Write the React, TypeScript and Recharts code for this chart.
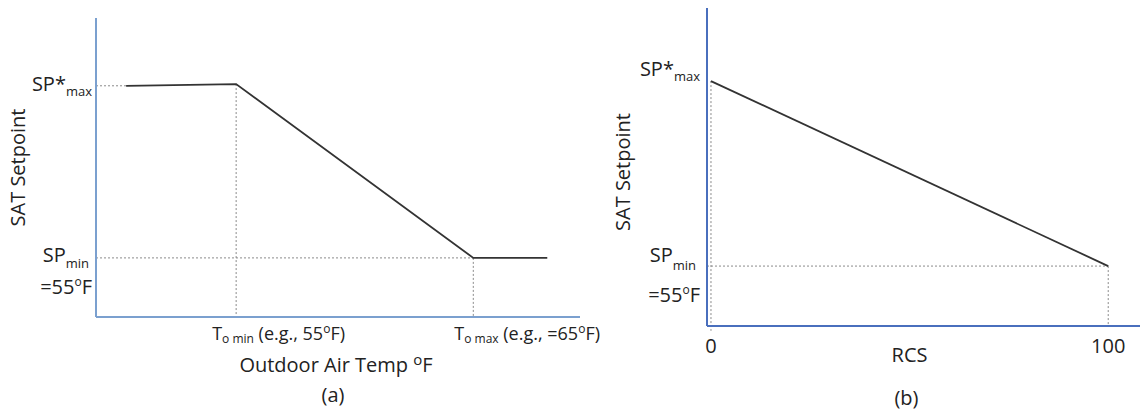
import React from 'react';
import { LineChart, Line, XAxis, YAxis, ReferenceLine, Label } from 'recharts';

// (a) SAT setpoint vs outdoor air temperature (°F)
const oatTemps = [50.36, 55, 65, 68.12];
const oatSetpoints = [64.9, 65, 55, 55];
const oatTicks = [55, 65];
const oatTickLabels = [
  { sub: 'o min', text: ' (e.g., 55', pad: 24 },
  { sub: 'o max', text: ' (e.g., =65', pad: 19 },
];

// (b) SAT setpoint vs RCS (0-100)
const rcsValues = [0, 100];
const rcsSetpoints = [65, 55];
const rcsTicks = [0, 100];
const rcsTickLabels = ['0', '100'];

const spTicks = [55, 65];
const spMaxLabel = { main: 'SP*', sub: 'max' };
const spMinLabel = { main: 'SP', sub: 'min', second: '=55' };

const FONT = '"Open Sans", "Noto Sans", sans-serif';
const INK = '#222';
const GUIDE = '#8a8a8a';

const dataA = oatTemps.map((x, i) => ({ x, y: oatSetpoints[i] }));
const dataB = rcsValues.map((x, i) => ({ x, y: rcsSetpoints[i] }));

const Degree = ({ size = 12, rise = 8 }: { size?: number; rise?: number }) => (
  <>
    <tspan fontSize={size} dy={-rise}>o</tspan>
    <tspan dy={rise}>F</tspan>
  </>
);

const makeYTick = (maxDy: number, minDy: number, subDy: number, secondDy: number, minShift: number) => (props: any) => {
  const { x, y, payload } = props;
  const isMax = payload.value === spTicks[1];
  if (isMax) {
    return (
      <text x={x} y={y + maxDy} textAnchor="end" fontFamily={FONT} fontSize={20} fill={INK}>
        {spMaxLabel.main}
        <tspan fontSize={13} dy={5}>{spMaxLabel.sub}</tspan>
      </text>
    );
  }
  return (
    <g>
      <text x={x - minShift} y={y + minDy} textAnchor="end" fontFamily={FONT} fontSize={20} fill={INK}>
        {spMinLabel.main}
        <tspan fontSize={13} dy={subDy}>{spMinLabel.sub}</tspan>
      </text>
      <text x={x} y={y + secondDy} textAnchor="end" fontFamily={FONT} fontSize={20} fill={INK}>
        {spMinLabel.second}
        <Degree />
      </text>
    </g>
  );
};

const OatTick = (props: any) => {
  const { x, y, index } = props;
  const lab = oatTickLabels[index];
  return (
    <text x={x - lab.pad} y={y + 23} textAnchor="start" fontFamily={FONT} fontSize={18} fill={INK}>
      T
      <tspan fontSize={12} dy={3}>{lab.sub}</tspan>
      <tspan dy={-3}>{lab.text}</tspan>
      <Degree size={12} rise={7} />
      <tspan>)</tspan>
    </text>
  );
};

const RcsTick = (props: any) => {
  const { x, y, index } = props;
  return (
    <text x={x} y={y + 27} textAnchor="middle" fontFamily={FONT} fontSize={20} fill={INK}>
      {rcsTickLabels[index]}
    </text>
  );
};

const yTitle = (dx: number, dyMid: number) => (props: any) => {
  const { viewBox } = props;
  const cx = viewBox.x + dx;
  const cy = viewBox.y + viewBox.height / 2 + dyMid;
  return (
    <text x={cx} y={cy} transform={`rotate(-90 ${cx} ${cy})`} textAnchor="middle" fontFamily={FONT} fontSize={20} fill={INK}>
      SAT Setpoint
    </text>
  );
};

const xTitle = (title: React.ReactNode, tag: string, dxMid: number, titleY: number, tagY: number) => (props: any) => {
  const { viewBox } = props;
  const cx = viewBox.x + viewBox.width / 2 + dxMid;
  return (
    <g>
      <text x={cx} y={viewBox.y + titleY} textAnchor="middle" fontFamily={FONT} fontSize={20} fill={INK}>
        {title}
      </text>
      <text x={cx - 3} y={viewBox.y + tagY} textAnchor="middle" fontFamily={FONT} fontSize={20} fill={INK}>
        {tag}
      </text>
    </g>
  );
};

const App: React.FC = () => {
  const aMinX = 49.09;
  const aMinY = 51.6;
  const bMinX = -1;
  const bMinY = 51.76;

  return (
    <div style={{ position: 'absolute', left: 0, top: 0, width: 1140, height: 413, background: '#fff' }}>
      <div style={{ position: 'absolute', left: 0, top: 0 }}>
        <LineChart width={604} height={413} data={dataA} margin={{ top: 18, right: 24, left: 0, bottom: 0 }}>
          <XAxis
            type="number"
            dataKey="x"
            domain={[aMinX, 69.5]}
            ticks={oatTicks}
            tick={<OatTick />}
            tickLine={false}
            tickSize={0}
            tickMargin={0}
            height={96}
            axisLine={{ stroke: '#7ba0cf', strokeWidth: 2 }}
            allowDataOverflow
          >
            <Label
              content={xTitle(
                <>
                  Outdoor Air Temp <tspan fontSize={15} dy={-7}>o</tspan>
                  <tspan dy={7}>F</tspan>
                </>,
                '(a)',
                -2,
                55,
                85
              )}
            />
          </XAxis>
          <YAxis
            type="number"
            domain={[aMinY, 68.8]}
            ticks={spTicks}
            tick={makeYTick(7, 4, 6, 36, 3)}
            tickLine={false}
            tickSize={0}
            tickMargin={4}
            width={96}
            axisLine={{ stroke: '#7ba0cf', strokeWidth: 2 }}
            allowDataOverflow
          >
            <Label content={yTitle(25, 0)} />
          </YAxis>
          <ReferenceLine segment={[{ x: aMinX, y: oatSetpoints[0] }, { x: oatTemps[0], y: oatSetpoints[0] }]} stroke={GUIDE} strokeDasharray="2 2" />
          <ReferenceLine segment={[{ x: oatTemps[1], y: oatSetpoints[1] }, { x: oatTemps[1], y: aMinY }]} stroke={GUIDE} strokeDasharray="2 2" />
          <ReferenceLine segment={[{ x: aMinX, y: oatSetpoints[2] }, { x: oatTemps[2], y: oatSetpoints[2] }]} stroke={GUIDE} strokeDasharray="2 2" />
          <ReferenceLine segment={[{ x: oatTemps[2], y: oatSetpoints[2] }, { x: oatTemps[2], y: aMinY }]} stroke={GUIDE} strokeDasharray="2 2" />
          <Line type="linear" dataKey="y" stroke="#333" strokeWidth={1.8} dot={false} isAnimationActive={false} />
        </LineChart>
      </div>
      <div style={{ position: 'absolute', left: 604, top: 0 }}>
        <LineChart width={536} height={413} data={dataB} margin={{ top: 8, right: 0, left: 0, bottom: 0 }}>
          <XAxis
            type="number"
            dataKey="x"
            domain={[bMinX, 108]}
            ticks={rcsTicks}
            tick={<RcsTick />}
            tickLine={false}
            tickSize={0}
            tickMargin={0}
            height={87}
            axisLine={{ stroke: '#4a6fbd', strokeWidth: 2 }}
            allowDataOverflow
          >
            <Label content={xTitle('RCS', '(b)', -14, 36, 79)} />
          </XAxis>
          <YAxis
            type="number"
            domain={[bMinY, 68.95]}
            ticks={spTicks}
            tick={makeYTick(-5, -4, 8, 36, 4)}
            tickLine={false}
            tickSize={0}
            tickMargin={7}
            width={103}
            axisLine={{ stroke: '#4a6fbd', strokeWidth: 2 }}
            allowDataOverflow
          >
            <Label content={yTitle(26, 5)} />
          </YAxis>
          <ReferenceLine segment={[{ x: rcsValues[0], y: rcsSetpoints[0] }, { x: rcsValues[0], y: 51.5 }]} stroke={GUIDE} strokeDasharray="2 2" ifOverflow="visible" />
          <ReferenceLine segment={[{ x: bMinX, y: rcsSetpoints[1] }, { x: rcsValues[1], y: rcsSetpoints[1] }]} stroke={GUIDE} strokeDasharray="2 2" />
          <ReferenceLine segment={[{ x: rcsValues[1], y: rcsSetpoints[1] }, { x: rcsValues[1], y: bMinY }]} stroke={GUIDE} strokeDasharray="2 2" />
          <Line type="linear" dataKey="y" stroke="#333" strokeWidth={1.8} dot={false} isAnimationActive={false} />
        </LineChart>
      </div>
    </div>
  );
};

export default App;
